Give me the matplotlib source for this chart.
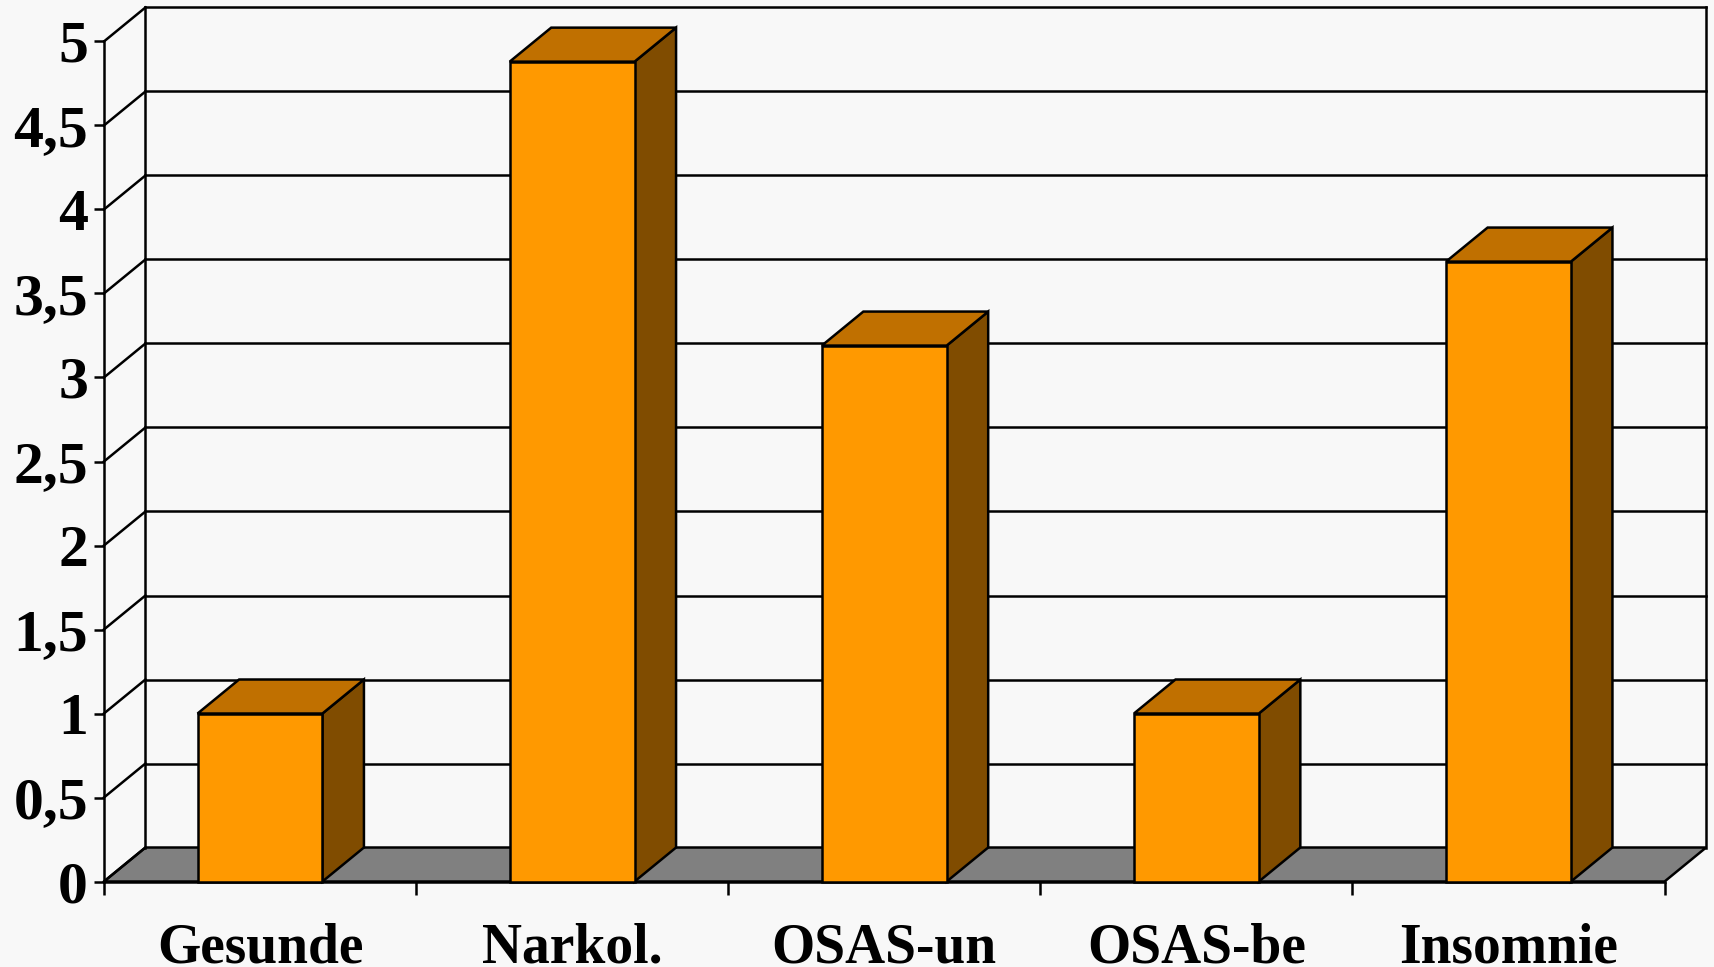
import matplotlib.pyplot as plt
from matplotlib.patches import Polygon

categories = ['Gesunde', 'Narkol.', 'OSAS-un', 'OSAS-be', 'Insomnie']
values = [1.0, 4.88, 3.19, 1.0, 3.69]
y_ticks = [0, 0.5, 1, 1.5, 2, 2.5, 3, 3.5, 4, 4.5, 5]
y_tick_labels = ['0', '0,5', '1', '1,5', '2', '2,5', '3', '3,5', '4', '4,5', '5']

# Farben wie im Excel-3D-Saeulendiagramm
c_front = '#FF9900'
c_top = '#C07000'
c_side = '#804C00'
c_floor = '#808080'
c_bg = '#F8F8F8'

# Tiefenversatz der Rueckwand (in Dateneinheiten)
dx, dy = 0.133, 0.2024
bar_w = 0.4
lw = 1.8

plt.rcParams['font.family'] = ['Liberation Serif', 'DejaVu Serif']
plt.rcParams['font.weight'] = 'bold'

n = len(categories)
ymax = y_ticks[-1]

fig = plt.figure(figsize=(17.15, 9.67), dpi=100, facecolor=c_bg)
ax = fig.add_axes([0.0606, 0.0884, 0.91, 0.8687])
ax.set_facecolor('none')
ax.set_xlim(0, n)
ax.set_ylim(0, ymax)

# Boden
ax.add_patch(Polygon([(0, 0), (n, 0), (n + dx, dy), (dx, dy)], closed=True,
                     fc=c_floor, ec='k', lw=lw, clip_on=False, zorder=1))

# Seitenwand und Rueckwand mit Gitterlinien
for v in y_ticks:
    ax.plot([0, dx], [v, v + dy], color='k', lw=lw, clip_on=False, zorder=1)
    if v > 0:
        ax.plot([dx, n + dx], [v + dy, v + dy], color='k', lw=lw,
                clip_on=False, zorder=1)
ax.plot([dx, dx], [dy, ymax + dy], color='k', lw=lw, clip_on=False, zorder=1)
ax.plot([n + dx, n + dx], [dy, ymax + dy], color='k', lw=lw, clip_on=False, zorder=1)

# Saeulen
for i, v in enumerate(values):
    x0 = i + 0.5 - bar_w / 2
    x1 = x0 + bar_w
    ax.add_patch(Polygon([(x1, 0), (x1 + dx, dy), (x1 + dx, v + dy), (x1, v)],
                         closed=True, fc=c_side, ec='k', lw=lw, clip_on=False, zorder=3))
    ax.add_patch(Polygon([(x0, v), (x1, v), (x1 + dx, v + dy), (x0 + dx, v + dy)],
                         closed=True, fc=c_top, ec='k', lw=lw, clip_on=False, zorder=3))
    ax.add_patch(Polygon([(x0, 0), (x1, 0), (x1, v), (x0, v)],
                         closed=True, fc=c_front, ec='k', lw=lw, clip_on=False, zorder=4))

# Achsen
for s in ['top', 'right']:
    ax.spines[s].set_visible(False)
for s in ['left', 'bottom']:
    ax.spines[s].set_linewidth(lw)
    ax.spines[s].set_zorder(2)

ax.set_yticks(y_ticks, y_tick_labels)
ax.tick_params(axis='y', direction='out', length=7.5, width=lw, pad=4, labelsize=43)

ax.set_xticks(range(n + 1), [''] * (n + 1))
ax.set_xticks([i + 0.5 for i in range(n)], categories, minor=True)
ax.tick_params(axis='x', which='major', direction='out', length=9.5, width=lw)
ax.tick_params(axis='x', which='minor', length=0, pad=29.5, labelsize=40)

plt.savefig('out.png', dpi=100, facecolor=c_bg)
